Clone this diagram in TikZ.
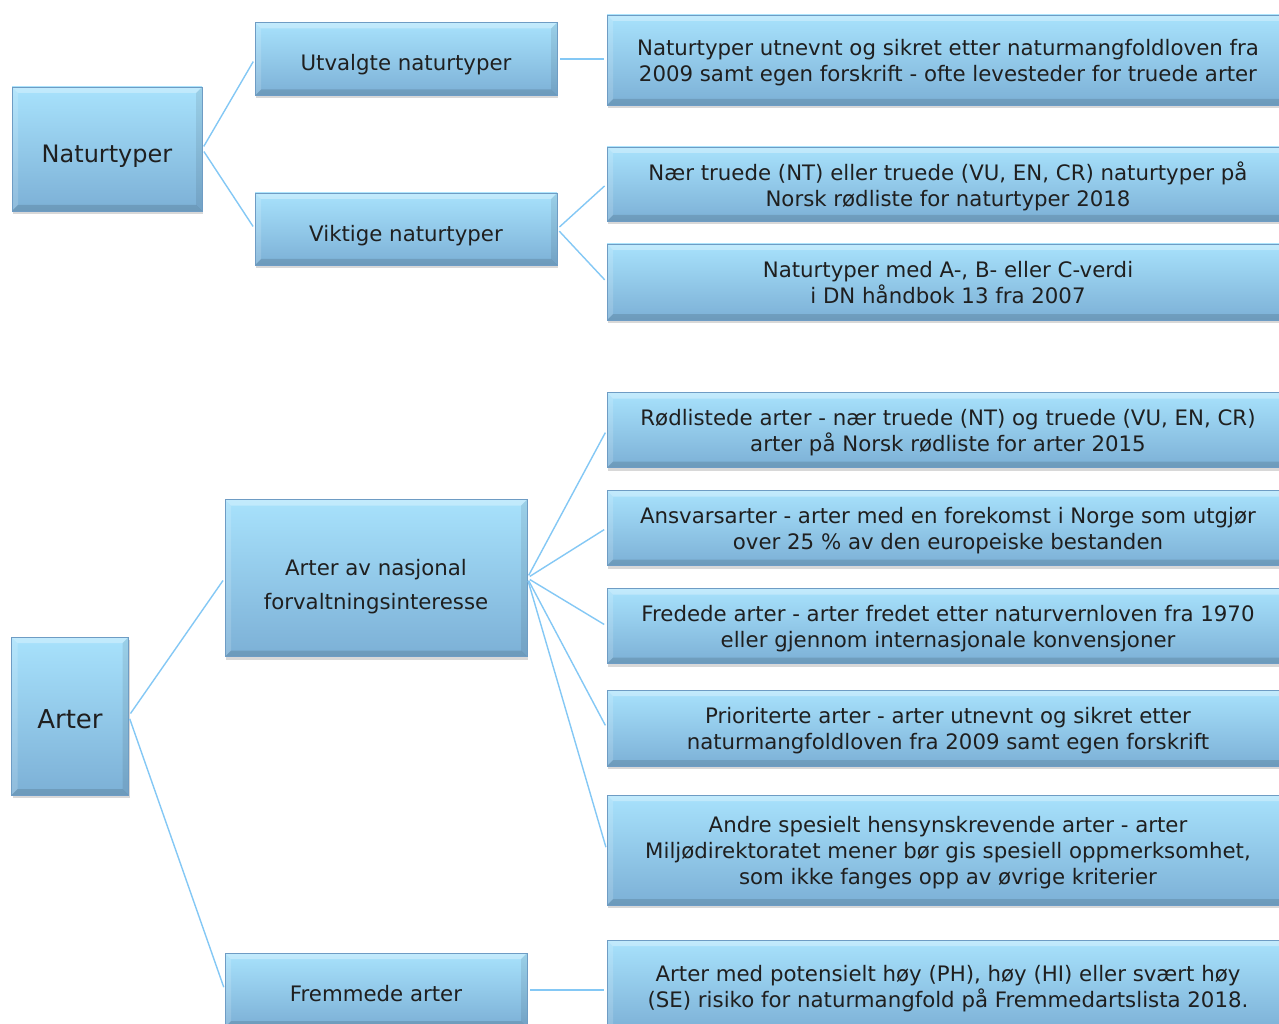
\documentclass[tikz,border=0pt]{standalone}
\usepackage{fontspec}
\setmainfont{DejaVu Sans}
\usetikzlibrary{shadows}

\definecolor{boxtop}{RGB}{168,226,252}
\definecolor{boxbot}{RGB}{124,176,214}
\definecolor{boxedge}{RGB}{110,156,196}
\definecolor{linkblue}{RGB}{132,200,245}
\tikzset{
  box/.style={rectangle, top color=boxtop, bottom color=boxbot, draw=boxedge,
    line width=0.5pt, align=center, text=black!88, text depth=0pt,
    font=\fontsize{21.3}{26}\selectfont,
    drop shadow={opacity=0.3, shadow xshift=1pt, shadow yshift=-3pt},
    path picture={
      \fill[white, opacity=0.3] (path picture bounding box.north west) -- (path picture bounding box.north east)
        -- ([xshift=-6pt,yshift=-6pt]path picture bounding box.north east) -- ([xshift=6pt,yshift=-6pt]path picture bounding box.north west) -- cycle;
      \fill[white, opacity=0.15] (path picture bounding box.north west) -- (path picture bounding box.south west)
        -- ([xshift=6pt,yshift=6pt]path picture bounding box.south west) -- ([xshift=6pt,yshift=-6pt]path picture bounding box.north west) -- cycle;
      \fill[black, opacity=0.12] (path picture bounding box.south west) -- (path picture bounding box.south east)
        -- ([xshift=-6pt,yshift=6pt]path picture bounding box.south east) -- ([xshift=6pt,yshift=6pt]path picture bounding box.south west) -- cycle;
      \fill[black, opacity=0.08] (path picture bounding box.north east) -- (path picture bounding box.south east)
        -- ([xshift=-6pt,yshift=6pt]path picture bounding box.south east) -- ([xshift=-6pt,yshift=-6pt]path picture bounding box.north east) -- cycle;
    }},
  wide/.style={box, minimum width=682pt},
  mid/.style={box, minimum width=302pt},
  link/.style={draw=linkblue, line width=1.4pt, shorten <=3pt, shorten >=3pt}
}

\begin{document}
\begin{tikzpicture}[x=1pt, y=-1pt]
\clip (0,0) rectangle (1279,1024);
\fill[white] (0,0) rectangle (1279,1024);

% naturtyper
\node[box, minimum width=190pt, minimum height=124pt, font=\fontsize{24}{28}\selectfont, text height=28pt] (naturtyper) at (107,149) {Naturtyper};
\node[mid, minimum height=73pt, text height=24pt] (utvalgte) at (406,59) {Utvalgte naturtyper};
\node[mid, minimum height=72pt, text height=25pt] (viktige) at (406,229) {Viktige naturtyper};
\node[wide, minimum height=90pt] (nat1) at (948,60) {Naturtyper utnevnt og sikret etter naturmangfoldloven fra\\2009 samt egen forskrift - ofte levesteder for truede arter};
\node[wide, minimum height=74pt] (nat2) at (948,184) {Nær truede (NT) eller truede (VU, EN, CR) naturtyper på\\Norsk rødliste for naturtyper 2018};
\node[wide, minimum height=76pt] (nat3) at (948,282) {Naturtyper med A-, B- eller C-verdi\\i DN håndbok 13 fra 2007};

% arter
\node[box, minimum width=117pt, minimum height=158pt, font=\fontsize{26}{30}\selectfont, text height=24pt] (arter) at (70,716) {Arter};
\node[mid, minimum height=157pt, font=\fontsize{21.3}{34}\selectfont, text height=62pt] (nasjonal) at (376,578) {Arter av nasjonal\\forvaltningsinteresse};
\node[mid, minimum height=74pt, text height=22pt] (fremmede) at (376,990) {Fremmede arter};
\node[wide, minimum height=75pt] (art1) at (948,430) {Rødlistede arter - nær truede (NT) og truede (VU, EN, CR)\\arter på Norsk rødliste for arter 2015};
\node[wide, minimum height=75pt] (art2) at (948,528) {Ansvarsarter - arter med en forekomst i Norge som utgjør\\over 25 \% av den europeiske bestanden};
\node[wide, minimum height=75pt] (art3) at (948,626) {Fredede arter - arter fredet etter naturvernloven fra 1970\\eller gjennom internasjonale konvensjoner};
\node[wide, minimum height=76pt] (art4) at (948,728) {Prioriterte arter - arter utnevnt og sikret etter\\naturmangfoldloven fra 2009 samt egen forskrift};
\node[wide, minimum height=110pt] (art5) at (948,850) {Andre spesielt hensynskrevende arter - arter\\Miljødirektoratet mener bør gis spesiell oppmerksomhet,\\som ikke fanges opp av øvrige kriterier};
\node[wide, minimum height=92pt] (art6) at (948,986) {Arter med potensielt høy (PH), høy (HI) eller svært høy\\(SE) risiko for naturmangfold på Fremmedartslista 2018.};

\draw[link] (naturtyper.east) -- (utvalgte.west);
\draw[link] (naturtyper.east) -- (viktige.west);
\draw[link] (utvalgte.east) -- (nat1.west |- utvalgte.east);
\draw[link] (viktige.east) -- (nat2.west);
\draw[link] (viktige.east) -- (nat3.west);
\draw[link] (arter.east) -- (nasjonal.west);
\draw[link] (arter.east) -- (fremmede.west);
\foreach \n in {art1,art2,art3,art4,art5}
  \draw[link] (nasjonal.east) -- (\n.west);
\draw[link] (fremmede.east) -- (art6.west |- fremmede.east);
\end{tikzpicture}
\end{document}
